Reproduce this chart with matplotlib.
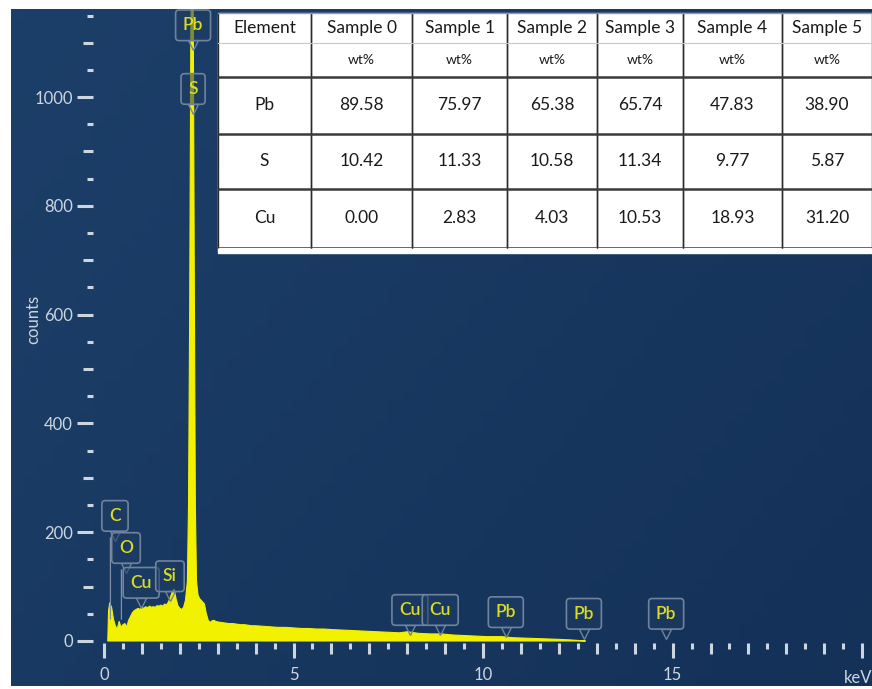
import numpy as np
import matplotlib
matplotlib.use('Agg')
import matplotlib.pyplot as plt
from matplotlib.ticker import FixedLocator, NullFormatter
from matplotlib.transforms import offset_copy

plt.rcParams['font.family'] = ['Lato', 'DejaVu Sans']

# EDS spectrum (keV, counts)
energy = [0.10, 0.12, 0.15, 0.20, 0.25, 0.30, 0.35, 0.40, 0.45, 0.50, 0.55, 0.60,
          0.65, 0.70, 0.75, 0.80, 0.85, 0.90, 0.95, 1.00, 1.05, 1.10, 1.15, 1.20,
          1.25, 1.30, 1.35, 1.40, 1.45, 1.50, 1.55, 1.60, 1.65, 1.70, 1.75, 1.80,
          1.85, 1.90, 1.95, 2.00, 2.05, 2.10, 2.15, 2.20, 2.23, 2.26, 2.29, 2.32,
          2.35, 2.38, 2.41, 2.44, 2.48, 2.52, 2.56, 2.60, 2.65, 2.70, 2.75, 2.80,
          2.85, 2.90, 2.95, 3.00, 3.10, 3.20, 3.30, 3.40, 3.50, 3.60, 3.70, 3.80,
          3.90, 4.00, 4.20, 4.40, 4.60, 4.80, 5.00, 5.20, 5.40, 5.60, 5.80, 6.00,
          6.30, 6.60, 6.90, 7.20, 7.50, 7.80, 8.00, 8.10, 8.30, 8.60, 8.90, 9.20,
          9.50, 9.80, 10.10, 10.50, 10.80, 11.20, 11.60, 12.00, 12.30, 12.50, 12.70]
counts = [0, 55, 70, 62, 40, 28, 22, 36, 25, 30, 32, 26,
          38, 45, 52, 56, 58, 60, 58, 62, 60, 63, 61, 64,
          62, 63, 62, 65, 64, 66, 64, 68, 66, 72, 80, 90,
          95, 78, 65, 60, 58, 62, 75, 110, 250, 600, 1100, 1300,
          1250, 700, 250, 110, 85, 78, 75, 72, 68, 50, 38, 34,
          37, 38, 36, 35, 34, 33, 32, 32, 31, 30, 30, 29,
          28, 28, 27, 26, 25, 25, 24, 23, 23, 22, 22, 21,
          20, 19, 18, 17, 16, 15, 17, 16, 14, 13, 13, 11,
          10, 9, 8, 8, 6, 5, 4, 3, 2, 1, 0]

# peak identification labels
peak_names = ['Pb', 'S', 'C', 'O', 'Cu', 'Si', 'Cu', 'Cu', 'Pb', 'Pb', 'Pb']
peak_kev = [2.35, 2.35, 0.29, 0.58, 0.98, 1.74, 8.07, 8.87, 10.60, 12.66, 14.83]
label_y = [1132, 1015, 230, 171, 107, 119, 57, 57, 53, 50, 50]

# composition table
elements = ['Pb', 'S', 'Cu']
samples = ['Sample 0', 'Sample 1', 'Sample 2', 'Sample 3', 'Sample 4', 'Sample 5']
pb_wt = [89.58, 75.97, 65.38, 65.74, 47.83, 38.90]
s_wt = [10.42, 11.33, 10.58, 11.34, 9.77, 5.87]
cu_wt = [0.00, 2.83, 4.03, 10.53, 18.93, 31.20]

bg = '#17375f'
yellow = '#f2f200'
light = '#cdd5df'
box_fc = (0.12, 0.24, 0.39, 0.55)
box_ec = '#71839c'

fig = plt.figure(figsize=(8.72, 6.89), dpi=100, facecolor='white')

# dark panel behind the spectrum, slightly lighter towards the lower left
bax = fig.add_axes([11 / 872, 3 / 689, 861 / 872, 677 / 689], zorder=0)
gx, gy = np.meshgrid(np.linspace(0, 1, 64), np.linspace(0, 1, 64))
shade = 0.6 * gx + 0.4 * gy
c0 = np.array([0x1c, 0x3f, 0x69]) / 255
c1 = np.array([0x14, 0x31, 0x58]) / 255
grad = c0 + (c1 - c0) * shade[..., None]
bax.imshow(grad, aspect='auto', extent=[0, 1, 0, 1], origin='upper')
bax.set_xticks([])
bax.set_yticks([])
for s in bax.spines.values():
    s.set_visible(False)

ax = fig.add_axes([93 / 872, 46 / 689, 779 / 872, 634 / 689], zorder=1)
ax.patch.set_alpha(0)
for s in ax.spines.values():
    s.set_visible(False)

ax.fill_between(energy, counts, 0, color=yellow, lw=0.8, edgecolor=yellow, zorder=2)
ax.set_xlim(-0.29, 20.26)
ax.set_ylim(-3.7, 1162)

# x ticks: long every 5, medium every 1, short every 0.5
ax.xaxis.set_major_locator(FixedLocator([0, 5, 10, 15, 20]))
ax.xaxis.set_minor_locator(FixedLocator([v / 2 for v in range(0, 41) if v % 10]))
ax.set_xticklabels(['0', '5', '10', '15', ''])
ax.tick_params(axis='x', which='major', length=11, width=2.2, color=light,
               labelcolor=light, labelsize=12, pad=6)
ax.tick_params(axis='x', which='minor', length=4.3, width=2.2, color=light)

# y ticks: long every 200, medium every 100, short every 50
ax.yaxis.set_major_locator(FixedLocator(range(0, 1001, 200)))
ax.yaxis.set_minor_locator(FixedLocator([v for v in range(50, 1151, 50) if v % 200]))
ax.yaxis.set_minor_formatter(NullFormatter())
ax.tick_params(axis='y', which='major', length=11.5, width=2.2, color=light,
               labelcolor=light, labelsize=12, pad=3)
ax.tick_params(axis='y', which='minor', length=4.3, width=2.2, color=light)

fig.canvas.draw()
for loc, t in zip(ax.xaxis.get_minorticklocs(), ax.xaxis.get_minor_ticks()):
    if float(loc).is_integer():
        t.tick1line.set_markersize(8)
for loc, t in zip(ax.yaxis.get_minorticklocs(), ax.yaxis.get_minor_ticks()):
    if loc % 100 == 0:
        t.tick1line.set_markersize(7.2)

ax.set_xlabel('keV', color=light, fontsize=12)
ax.xaxis.set_label_coords((19.9 + 0.29) / 20.55, -0.043)
ax.set_ylabel('counts', color=light, fontsize=12)
ax.yaxis.set_label_coords(-0.066, 0.51)

# peak labels with a small pointer below each box
below = offset_copy(ax.transData, fig=fig, x=0, y=-20, units='dots')
for name, e, yl in zip(peak_names, peak_kev, label_y):
    ax.plot([e], [yl], transform=below, marker='v', ms=7, mfc='none', mec=box_ec,
            mew=1.0, zorder=3.9, clip_on=False)
    ax.text(e, yl, name, color='#dcdc22', fontsize=12.5, fontweight='semibold',
            ha='center', va='center', zorder=4,
            bbox=dict(boxstyle='round,pad=0.42,rounding_size=0.2', fc=box_fc,
                      ec=box_ec, lw=1.2))
for e, yl in [(0.29, 230), (0.58, 171)]:
    ax.annotate('', xy=(e - 0.12, 35), xytext=(e - 0.12, yl - 35),
                arrowprops=dict(arrowstyle='-', color='#8090a6', lw=0.9), zorder=3)

# composition table
tax = fig.add_axes([218 / 872, 441 / 689, 654 / 872, 235 / 689], zorder=2)
tax.axis('off')
tax.add_patch(plt.Rectangle((0, -0.02), 1, 1.02, color='white', transform=tax.transAxes,
                            zorder=0, clip_on=False))
rows = [['Element'] + samples, [''] + ['wt%'] * 6]
for el, vals in zip(elements, [pb_wt, s_wt, cu_wt]):
    rows.append([el] + [f'{v:.2f}' for v in vals])
col_w = np.array([93, 101, 95, 90, 86, 99, 90]) / 654
row_h = [30, 34, 56, 55, 59]
tab = tax.table(cellText=rows, colWidths=list(col_w), bbox=[0, 0, 1, 1],
                cellLoc='center')
tab.auto_set_font_size(False)
for (r, c), cell in tab.get_celld().items():
    cell.set_height(row_h[r])
    cell.visible_edges = 'LR'
    cell.set_edgecolor('#2a2a2a')
    cell.set_linewidth(1.0)
    cell.get_text().set_color('#1a1a1a')
    cell.get_text().set_fontsize(10 if r == 1 else 12.5)
tax.set_xlim(0, 1)
tax.set_ylim(0, 1)
bounds = np.cumsum([0] + row_h) / sum(row_h)
for i, b in enumerate(bounds):
    if i == 0:
        tax.axhline(1, color='#9a9a9a', lw=1.0)
    elif i == 1:
        tax.axhline(1 - b, color='#c8c8c8', lw=0.8)
    else:
        tax.axhline(1 - b, color='#3a3a3a', lw=1.8)

fig.savefig('out.png', dpi=100, facecolor='white')
